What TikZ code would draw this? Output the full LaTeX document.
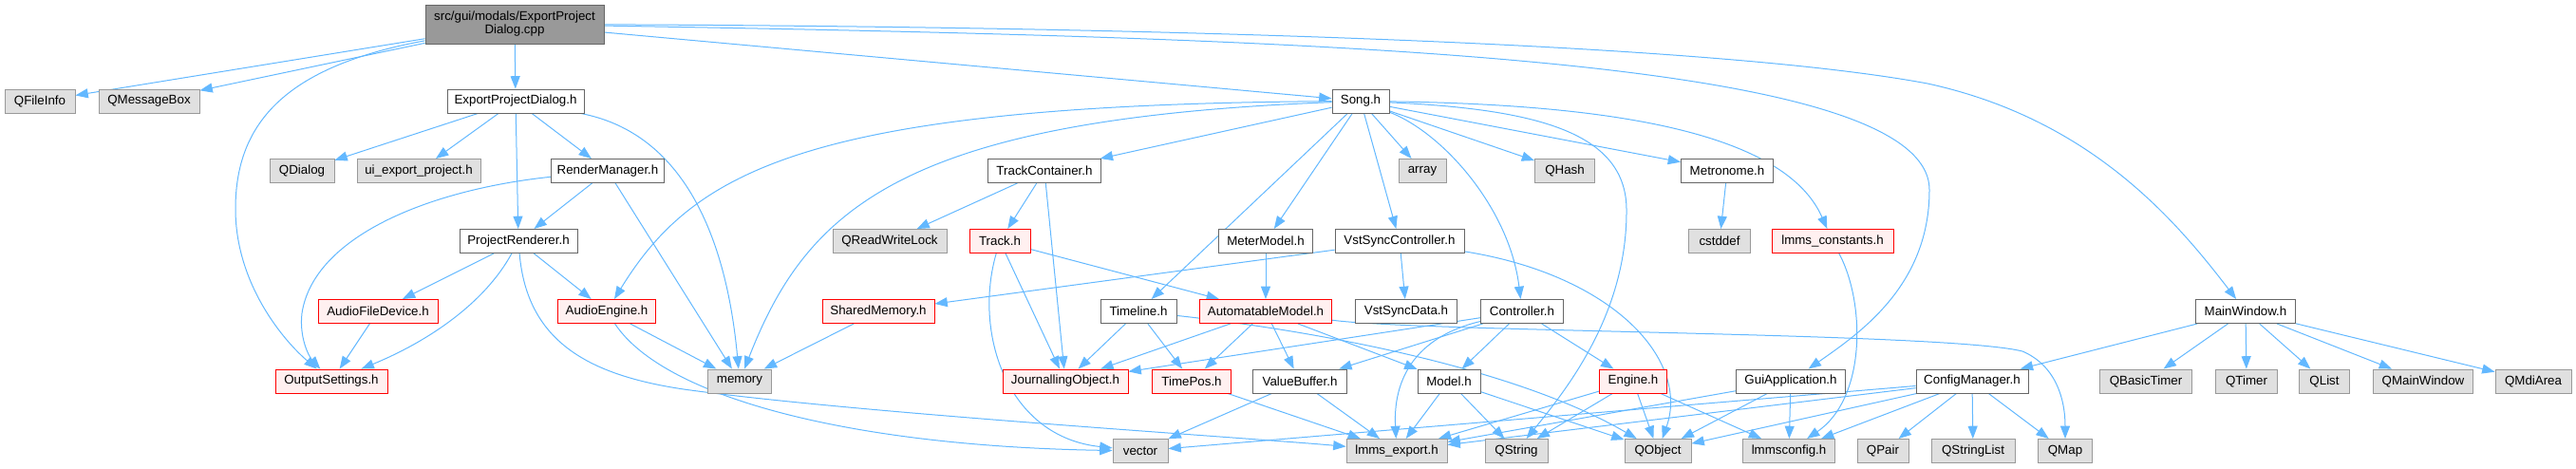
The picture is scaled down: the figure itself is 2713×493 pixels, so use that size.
\documentclass[tikz,border=0pt]{standalone}
\usepackage{fontspec}
\setmainfont{Liberation Sans}
\usetikzlibrary{arrows.meta}
\definecolor{edgec}{HTML}{63B8FF}
\definecolor{wborder}{HTML}{666666}
\definecolor{gborder}{HTML}{999999}
\definecolor{gfill}{HTML}{E0E0E0}
\definecolor{rborder}{HTML}{FF0000}
\definecolor{rfill}{HTML}{FFF0F0}
\definecolor{rootfill}{HTML}{999999}
\pgfdeclarelayer{background}
\pgfsetlayers{background,main}
\begin{document}
\begin{tikzpicture}[x=0.75pt,y=-0.75pt,
  base/.style={rectangle, inner sep=0pt, minimum height=18.75pt, font=\fontsize{10pt}{10.5pt}\selectfont, line width=0.7pt, text=black},
  wnode/.style={base, draw=wborder, fill=white},
  gnode/.style={base, draw=gborder, fill=gfill},
  rnode/.style={base, draw=rborder, fill=rfill},
  rootnode/.style={base, draw=wborder, fill=rootfill, minimum height=30.75pt, align=center},
  wd/.style={minimum width={#1*0.75pt}},
  edge/.style={draw=edgec, line width=0.75pt, -{Triangle[length=10pt,width=7.5pt]}}]
\useasboundingbox (0,0) rectangle (2713,493);

% root
\node[rootnode, wd=188] (root) at (542,25.5) {src/gui/modals/ExportProject\\Dialog.cpp};

% row 1
\node[gnode, wd=74] (qfileinfo) at (42,106.5) {QFileInfo};
\node[gnode, wd=106] (qmsgbox) at (157,106.5) {QMessageBox};
\node[wnode, wd=144] (epd) at (543,106.5) {ExportProjectDialog.h};
\node[wnode, wd=60] (song) at (1433,106.5) {Song.h};

% row 2
\node[gnode, wd=68] (qdialog) at (318,180) {QDialog};
\node[gnode, wd=130] (uiexp) at (441,180) {ui\_export\_project.h};
\node[wnode, wd=119] (rm) at (640,180) {RenderManager.h};
\node[wnode, wd=119] (tc) at (1100,180) {TrackContainer.h};
\node[gnode, wd=50] (array) at (1498,180) {array};
\node[gnode, wd=63] (qhash) at (1648,180) {QHash};
\node[wnode, wd=97] (metro) at (1819,180) {Metronome.h};

% row 3
\node[wnode, wd=124] (pr) at (546,254) {ProjectRenderer.h};
\node[gnode, wd=120] (qrwl) at (937,254) {QReadWriteLock};
\node[rnode, wd=64] (track) at (1053,254) {Track.h};
\node[wnode, wd=99] (meter) at (1333,254) {MeterModel.h};
\node[wnode, wd=136] (vsc) at (1474,254) {VstSyncController.h};
\node[gnode, wd=65] (cstddef) at (1811,254) {cstddef};
\node[rnode, wd=128] (lconst) at (1930,254) {lmms\_constants.h};

% row 4
\node[rnode, wd=126] (afd) at (398,328) {AudioFileDevice.h};
\node[rnode, wd=103] (ae) at (639,328) {AudioEngine.h};
\node[rnode, wd=118] (shm) at (925,328) {SharedMemory.h};
\node[wnode, wd=80] (timeline) at (1199,328) {Timeline.h};
\node[rnode, wd=139] (am) at (1333,328) {AutomatableModel.h};
\node[wnode, wd=107] (vsd) at (1481,328) {VstSyncData.h};
\node[wnode, wd=87] (ctrl) at (1603,328) {Controller.h};
\node[wnode, wd=105] (mainwin) at (2365,328) {MainWindow.h};

% row 5
\node[rnode, wd=118] (outset) at (349,401.5) {OutputSettings.h};
\node[gnode, wd=67] (memory) at (779,401.5) {memory};
\node[rnode, wd=132] (jo) at (1122,401.5) {JournallingObject.h};
\node[rnode, wd=83] (timepos) at (1255,401.5) {TimePos.h};
\node[wnode, wd=99] (vb) at (1369,401.5) {ValueBuffer.h};
\node[wnode, wd=66] (model) at (1526,401.5) {Model.h};
\node[rnode, wd=71] (engine) at (1720,401.5) {Engine.h};
\node[wnode, wd=115] (guiapp) at (1886,401.5) {GuiApplication.h};
\node[wnode, wd=118] (cm) at (2077,401.5) {ConfigManager.h};
\node[gnode, wd=97] (qbt) at (2260,401.5) {QBasicTimer};
\node[gnode, wd=65] (qtimer) at (2366,401.5) {QTimer};
\node[gnode, wd=53] (qlist) at (2448,401.5) {QList};
\node[gnode, wd=105] (qmw) at (2552,401.5) {QMainWindow};
\node[gnode, wd=80] (qmdi) at (2668,401.5) {QMdiArea};

% row 6
\node[gnode, wd=58] (vector) at (1201,475) {vector};
\node[gnode, wd=106] (lexport) at (1471,475) {lmms\_export.h};
\node[gnode, wd=66] (qstring) at (1597,475) {QString};
\node[gnode, wd=70] (qobject) at (1746,475) {QObject};
\node[gnode, wd=97] (lconfig) at (1884,475) {lmmsconfig.h};
\node[gnode, wd=54] (qpair) at (1983,475) {QPair};
\node[gnode, wd=88] (qsl) at (2078,475) {QStringList};
\node[gnode, wd=57] (qmap) at (2175,475) {QMap};

\begin{pgfonlayer}{background}
% straight edges
\foreach \a/\b in {root/qfileinfo, root/qmsgbox, root/epd, root/song,
  epd/qdialog, epd/uiexp, epd/rm, epd/pr,
  rm/pr, rm/memory, pr/afd, pr/ae, afd/outset, ae/memory, shm/memory,
  song/tc, song/meter, song/timeline, song/vsc, song/array, song/qhash, song/metro,
  tc/qrwl, tc/track, tc/jo, track/am, track/jo, meter/am,
  vsc/shm, vsc/vsd, timeline/jo, timeline/timepos,
  am/jo, am/timepos, am/vb, am/model,
  ctrl/jo, ctrl/vb, ctrl/model, ctrl/engine, metro/cstddef,
  vb/vector, vb/lexport, timepos/lexport,
  model/lexport, model/qstring, model/qobject,
  engine/lexport, engine/qstring, engine/qobject, engine/lconfig,
  guiapp/lexport, guiapp/qobject, guiapp/lconfig,
  cm/vector, cm/lexport, cm/qobject, cm/lconfig, cm/qpair, cm/qsl, cm/qmap,
  mainwin/cm, mainwin/qbt, mainwin/qtimer, mainwin/qlist, mainwin/qmw, mainwin/qmdi}
  \draw[edge] (\a) -- (\b);

% curved edges
\draw[edge] (root) .. controls (300,70) and (248,130) .. (248,220) .. controls (248,300) and (300,360) .. (outset);
\draw[edge] (rm) .. controls (450,200) and (330,250) .. (318,330) .. controls (315,355) and (325,375) .. (outset);
\draw[edge] (pr) .. controls (510,320) and (450,360) .. (outset);
\draw[edge] (epd) .. controls (720,140) and (765,250) .. (memory);
\draw[edge] (pr) .. controls (555,360) and (620,395) .. (720,410) .. controls (900,435) and (1300,460) .. (lexport);
\draw[edge] (ae) .. controls (700,420) and (900,470) .. (vector);
\draw[edge] (song) .. controls (950,125) and (850,220) .. (memory);
\draw[edge] (song) .. controls (850,110) and (730,180) .. (ae);
\draw[edge] (song) .. controls (1520,140) and (1590,220) .. (ctrl);
\draw[edge] (song) .. controls (1620,115) and (1712,140) .. (1713,220) .. controls (1714,330) and (1650,410) .. (qstring);
\draw[edge] (song) .. controls (1700,110) and (1880,140) .. (lconst);
\draw[edge] (root) .. controls (1400,40) and (2032,60) .. (2032,200) .. controls (2032,300) and (1960,350) .. (guiapp);
\draw[edge] (root) .. controls (1200,28) and (1800,45) .. (2030,88) .. controls (2200,125) and (2290,230) .. (mainwin);
\draw[edge] (track) .. controls (1025,350) and (1060,460) .. (vector);
\draw[edge] (vsc) .. controls (1700,290) and (1780,380) .. (qobject);
\draw[edge] (am) .. controls (1500,350) and (2050,350) .. (2130,370) .. controls (2165,385) and (2175,420) .. (qmap);
\draw[edge] (timeline) .. controls (1400,350) and (1600,390) .. (qobject);
\draw[edge] (ctrl) .. controls (1490,355) and (1467,400) .. (lexport);
\draw[edge] (lconst) .. controls (1965,320) and (1965,420) .. (lconfig);
\end{pgfonlayer}
\end{tikzpicture}
\end{document}
